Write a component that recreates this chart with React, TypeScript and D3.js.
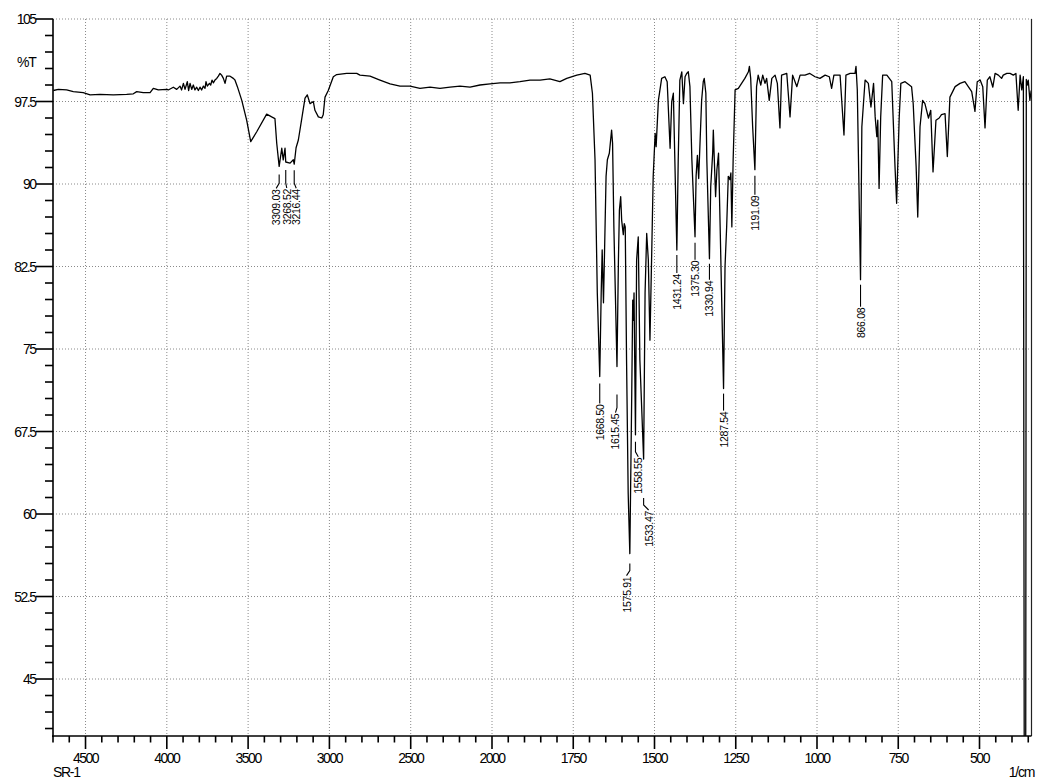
import { useEffect, useRef } from "react";
import * as d3 from "d3";

// spectrum (wavenumber in 1/cm, %T)
const wavenumbers = [
  4698, 4667, 4616, 4575, 4514, 4472, 4411, 4329, 4247, 4206, 4185, 4145, 4103, 4083, 4052, 4001,
  3991, 3960, 3939, 3919, 3909, 3898, 3888, 3874, 3866, 3857, 3847, 3837, 3827, 3816, 3806, 3796,
  3786, 3775, 3765, 3759, 3751, 3738, 3730, 3722, 3714, 3704, 3693, 3683, 3673, 3663, 3652, 3642,
  3632, 3611, 3591, 3581, 3566, 3539, 3509, 3484, 3447, 3386, 3355, 3335, 3324, 3309.03, 3293, 3284,
  3273, 3268.52, 3242, 3222, 3216.44, 3205, 3191, 3170, 3150, 3136, 3119, 3099, 3089, 3068, 3047, 3038,
  3027, 3007, 2976, 2955, 2894, 2832, 2812, 2750, 2689, 2627, 2566, 2504, 2443, 2381, 2320, 2258,
  2197, 2135, 2074, 2012, 1975, 1945, 1914, 1883, 1852, 1822, 1791, 1770, 1739, 1714, 1698, 1691,
  1683, 1676, 1668.5, 1664, 1661, 1657, 1654, 1649, 1645, 1639, 1632, 1629, 1625, 1615.45, 1611, 1608,
  1604, 1601, 1596, 1593, 1590, 1586, 1581, 1575.91, 1570, 1567, 1565, 1563, 1558.55, 1555, 1550, 1545,
  1533.47, 1529, 1524, 1519, 1514, 1509, 1504, 1498, 1495, 1488, 1478, 1468, 1461, 1452, 1447, 1442,
  1431.24, 1427, 1422, 1416, 1411, 1406, 1401, 1396, 1391, 1385, 1375.3, 1372, 1368, 1364, 1360, 1355,
  1350, 1347, 1342, 1339, 1330.94, 1327, 1321, 1319, 1316, 1312, 1308, 1303, 1298, 1287.54, 1283, 1278,
  1273, 1268, 1265, 1262, 1258, 1252, 1242, 1232, 1222, 1211, 1208, 1204, 1198, 1191.09, 1186, 1181,
  1173, 1167, 1160, 1155, 1147, 1139, 1129, 1122, 1114, 1109, 1093, 1083, 1075, 1062, 1052, 1037,
  1022, 1006, 991, 975, 962, 955, 948, 929, 917, 911, 898, 883, 880, 876, 866.08, 862,
  852, 842, 834, 826, 821, 816, 813, 809, 804, 798, 785, 770, 760, 755, 747, 742,
  729, 709, 704, 695, 690, 683, 675, 668, 657, 650, 643, 634, 624, 617, 606, 599,
  591, 575, 560, 545, 524, 514, 507, 498, 490, 483, 476, 468, 459, 452, 442, 432,
  427, 416, 406, 396, 388, 381, 375, 370, 365, 362, 358, 356, 353, 350, 345, 341,
];

const transmittance = [
  98.5, 98.6, 98.55, 98.4, 98.3, 98.1, 98.15, 98.1, 98.15, 98.2, 98.4, 98.3, 98.3, 98.7, 98.55, 98.6,
  98.55, 98.8, 98.6, 98.9, 98.55, 99.15, 98.6, 99.3, 98.5, 99.15, 98.6, 99.0, 98.55, 98.8, 98.5, 98.8,
  98.55, 98.9, 98.7, 99.3, 98.9, 99.15, 99.0, 99.45, 99.2, 99.45, 99.6, 99.8, 100.05, 99.9, 99.6, 99.15,
  99.8, 99.8, 99.6, 99.45, 98.85, 97.6, 95.8, 93.85, 94.75, 96.35, 96.1, 95.95, 93.7, 91.6, 93.25, 92.2,
  93.25, 92.0, 91.9, 92.2, 91.8, 93.3, 94.0, 95.95, 97.8, 98.1, 97.3, 97.5, 96.7, 96.1, 96.0, 96.3,
  97.9, 98.5, 99.75, 99.95, 100.05, 100.05, 99.9, 99.8, 99.45, 99.1, 98.9, 98.9, 98.7, 98.8, 98.7, 98.8,
  98.9, 98.8, 99.0, 99.1, 99.2, 99.2, 99.3, 99.45, 99.45, 99.55, 99.3, 99.6, 99.9, 100.05, 99.9, 98.25,
  92.2, 80.1, 72.5, 80.1, 84.0, 79.2, 83.4, 90.7, 92.2, 92.8, 94.9, 93.7, 86.1, 73.4, 83.1, 87.6,
  88.85, 86.7, 85.4, 86.4, 86.1, 74.0, 61.9, 56.4, 71.0, 79.45, 77.6, 80.1, 67.2, 83.1, 85.2, 74.0,
  65.0, 80.1, 85.5, 83.1, 75.8, 83.1, 90.7, 94.6, 93.4, 97.6, 99.6, 99.75, 99.3, 93.25, 97.5, 98.25,
  84.0, 92.2, 99.45, 100.2, 97.3, 99.75, 100.05, 100.2, 98.85, 92.2, 85.2, 90.7, 92.6, 90.5, 93.7, 97.6,
  99.3, 99.6, 98.25, 92.2, 83.2, 89.75, 92.8, 94.9, 92.2, 88.85, 91.3, 92.8, 86.1, 71.4, 82.5, 86.1,
  90.7, 90.4, 91.0, 86.1, 92.2, 98.55, 98.7, 99.15, 99.6, 100.2, 100.7, 99.6, 95.2, 91.3, 98.85, 99.9,
  99.0, 99.9, 99.15, 99.6, 97.6, 99.6, 99.9, 99.15, 95.1, 99.9, 100.05, 96.1, 99.9, 98.85, 99.9, 99.9,
  100.05, 99.75, 99.6, 99.9, 99.75, 98.7, 99.9, 99.9, 94.45, 99.9, 100.05, 100.05, 100.7, 98.55, 81.3, 95.2,
  99.45, 99.15, 97.0, 99.15, 96.1, 94.3, 95.8, 89.6, 96.1, 99.9, 99.9, 99.3, 91.6, 88.25, 96.1, 99.15,
  99.3, 98.85, 97.3, 91.6, 87.0, 95.2, 97.6, 97.3, 96.0, 96.7, 91.1, 95.8, 96.0, 96.3, 96.4, 92.5,
  97.9, 98.85, 99.15, 99.3, 98.4, 96.6, 99.3, 99.45, 98.85, 95.1, 99.45, 99.75, 98.8, 100.05, 99.9, 99.6,
  99.9, 100.05, 100.05, 99.9, 100.05, 96.7, 99.9, 98.55, 99.75, 30, 30, 99.5, 99.0, 99.45, 97.6, 98.5,
];

const peakLabels = [
  "3309.03", "3268.52", "3216.44", "1668.50", "1615.45", "1575.91", "1558.55",
  "1533.47", "1431.24", "1375.30", "1330.94", "1287.54", "1191.09", "866.08",
];

// leader layout per label: gap below the peak, line length, sideways shift of the text
const labelLayout = [
  [8, 9, -3], [8, 13, 1], [6, 13, 2], [7, 20, 0], [28, 13, -1.5], [10, 7, -3.3], [7, 10, 2.8],
  [39, 7, 5], [5, 18, 0], [6, 17, 0], [5, 16, 0], [5, 17, 0], [6, 19, 0], [5, 22, 0],
];

const xMajorTicks = [4500, 4000, 3500, 3000, 2500, 2000, 1750, 1500, 1250, 1000, 750, 500];
const yMajorTicks = [105, 97.5, 90, 82.5, 75, 67.5, 60, 52.5, 45];

export default function App() {
  const svgRef = useRef<SVGSVGElement>(null);

  useEffect(() => {
    if (!svgRef.current) return;
    const svg = d3.select(svgRef.current);
    svg.selectAll("*").remove();

    const left = 53;
    const right = 1031.5;
    const top = 19;
    const bottom = 736;
    const font = "'Liberation Sans', Arial, sans-serif";

    // Shimadzu style: the scale doubles below 2000 1/cm
    const x = d3.scaleLinear().domain([4700, 2000, 340]).range([left, 492, right]);
    const y = d3.scaleLinear().domain([39.82, 105]).range([bottom, top]);

    const xMinor = [...d3.range(4700, 2000, -100), ...d3.range(2000, 340, -50)];
    const yMinor = d3.range(0, 44).map((i) => 105 - i * 1.5).filter((v) => v >= 39.82);

    // Grid
    const grid = svg.append("g").attr("stroke", "#8a8a8a").attr("stroke-dasharray", "1,2");
    grid
      .selectAll("line.gx")
      .data(xMajorTicks)
      .enter()
      .append("line")
      .attr("x1", (d) => x(d))
      .attr("x2", (d) => x(d))
      .attr("y1", top)
      .attr("y2", bottom);
    grid
      .selectAll("line.gy")
      .data(yMajorTicks)
      .enter()
      .append("line")
      .attr("x1", left)
      .attr("x2", right)
      .attr("y1", (d) => y(d))
      .attr("y2", (d) => y(d));

    // Spectrum
    svg
      .append("clipPath")
      .attr("id", "plotClip")
      .append("rect")
      .attr("x", left)
      .attr("y", top)
      .attr("width", right - left)
      .attr("height", bottom - top);

    const line = d3
      .line<number>()
      .x((d) => x(d))
      .y((_, i) => y(transmittance[i]));

    svg
      .append("path")
      .attr("clip-path", "url(#plotClip)")
      .attr("d", line(wavenumbers))
      .attr("fill", "none")
      .attr("stroke", "#000")
      .attr("stroke-width", 1.3)
      .attr("stroke-linejoin", "round");

    // Frame
    svg
      .append("line")
      .attr("x1", right)
      .attr("x2", right)
      .attr("y1", top)
      .attr("y2", bottom)
      .attr("stroke", "#222")
      .attr("stroke-width", 1.2);

    const axes = svg.append("g").attr("stroke", "#000").attr("stroke-width", 1.6);
    axes.append("line").attr("x1", left).attr("x2", left).attr("y1", top).attr("y2", bottom + 1);
    axes.append("line").attr("x1", left - 1).attr("x2", right).attr("y1", bottom).attr("y2", bottom);

    // X ticks
    axes
      .selectAll("line.xm")
      .data(xMinor)
      .enter()
      .append("line")
      .attr("x1", (d) => x(d))
      .attr("x2", (d) => x(d))
      .attr("y1", bottom)
      .attr("y2", (d) => bottom + (xMajorTicks.includes(d) ? 13 : 6.5));

    // Y ticks
    axes
      .selectAll("line.ym")
      .data(yMinor)
      .enter()
      .append("line")
      .attr("x1", (d) => left - (yMajorTicks.some((t) => Math.abs(t - d) < 0.01) ? 17 : 8))
      .attr("x2", left)
      .attr("y1", (d) => y(d))
      .attr("y2", (d) => y(d));

    // Tick labels
    svg
      .append("g")
      .selectAll("text")
      .data(xMajorTicks)
      .enter()
      .append("text")
      .attr("x", (d) => x(d))
      .attr("y", 758)
      .attr("text-anchor", "middle")
      .attr("dominant-baseline", "central")
      .style("font-family", font)
      .style("font-size", "14px")
      .style("letter-spacing", "-1.5px")
      .text((d) => d);

    svg
      .append("g")
      .selectAll("text")
      .data(yMajorTicks)
      .enter()
      .append("text")
      .attr("x", 35.5)
      .attr("y", (d) => y(d))
      .attr("text-anchor", "end")
      .attr("dominant-baseline", "central")
      .style("font-family", font)
      .style("font-size", "14px")
      .style("letter-spacing", "-1.5px")
      .text((d) => d);

    const misc = [
      { t: "%T", x: 35.5, y: 61.7, anchor: "end" },
      { t: "SR-1", x: 53, y: 772, anchor: "start" },
      { t: "1/cm", x: 1034, y: 772, anchor: "end" },
    ];
    svg
      .append("g")
      .selectAll("text")
      .data(misc)
      .enter()
      .append("text")
      .attr("x", (d) => d.x)
      .attr("y", (d) => d.y)
      .attr("text-anchor", (d) => d.anchor)
      .attr("dominant-baseline", "central")
      .style("font-family", font)
      .style("font-size", "14px")
      .style("letter-spacing", "-1.3px")
      .text((d) => d.t);

    // Peak labels with leaders
    const peaks = peakLabels.map((label, i) => {
      const wn = parseFloat(label);
      const idx = wavenumbers.findIndex((w) => Math.abs(w - wn) < 0.01);
      const [gap, len, dx] = labelLayout[i];
      const px = x(wn);
      const py = y(transmittance[idx]);
      const y0 = py + gap;
      const y1 = y0 + len;
      const y2 = dx !== 0 ? y1 + 5 : y1;
      return { label, px, y0, y1, y2, tx: px + dx };
    });

    const pg = svg.append("g");
    pg.selectAll("path")
      .data(peaks)
      .enter()
      .append("path")
      .attr("d", (d) => `M${d.px},${d.y0}L${d.px},${d.y1}L${d.tx},${d.y2}`)
      .attr("fill", "none")
      .attr("stroke", "#000")
      .attr("stroke-width", 1.1);

    pg.selectAll("text")
      .data(peaks)
      .enter()
      .append("text")
      .attr("transform", (d) => `translate(${d.tx},${d.y2 + 1}) rotate(-90)`)
      .attr("text-anchor", "end")
      .attr("dominant-baseline", "central")
      .style("font-family", font)
      .style("font-size", "10.5px")
      .style("letter-spacing", "-0.3px")
      .text((d) => d.label);
  }, []);

  return (
    <svg
      ref={svgRef}
      width={1037}
      height={780}
      style={{ position: "absolute", left: 0, top: 0, background: "#fff" }}
    />
  );
}
